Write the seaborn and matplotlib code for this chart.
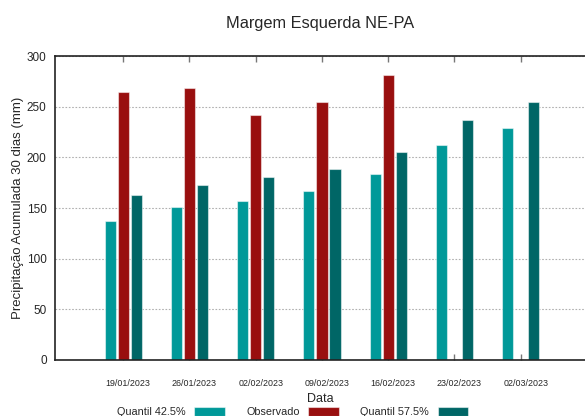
import numpy as np
import pandas as pd
import seaborn as sns
import matplotlib.pyplot as plt
import matplotlib.transforms as mtransforms

datas = ['19/01/2023', '26/01/2023', '02/02/2023', '09/02/2023',
         '16/02/2023', '23/02/2023', '02/03/2023']
quantil_425 = [137.5, 151, 157, 167, 183.5, 212, 229]
observado = [264.5, 268, 241.5, 255, 281, np.nan, np.nan]
quantil_575 = [162.5, 173, 180.5, 188, 205.5, 237, 254.5]

series = ['Quantil 42.5%', 'Observado', 'Quantil 57.5%']
cores = ['#009999', '#990f0f', '#006666']

df = pd.DataFrame({'Data': datas,
                   series[0]: quantil_425,
                   series[1]: observado,
                   series[2]: quantil_575})
dfm = df.melt('Data', var_name='serie', value_name='valor')

sns.set_theme(style="white")
plt.rcParams['font.family'] = ['Liberation Sans', 'DejaVu Sans']

fig = plt.figure(figsize=(5.85, 4.16), dpi=100)
ax = fig.add_axes([55 / 585, 1 - 360 / 416, 1 - 55 / 585, (360 - 56) / 416])

sns.barplot(data=dfm, x='Data', y='valor', hue='serie', hue_order=series,
            palette=cores, width=0.59, gap=0.15, dodge=True,
            edgecolor=(1, 1, 1, 0.5), linewidth=0.8, errorbar=None,
            saturation=1, ax=ax, legend=True)

ax.set_xlim(-1.03, 6.97)
ax.set_ylim(0, 300)
ax.set_yticks(range(0, 301, 50))
ax.yaxis.grid(True, linestyle=(0, (1.5, 1.5)), color='#b0b0b0', linewidth=0.8)
ax.set_axisbelow(True)

for s in ['left', 'bottom', 'top']:
    ax.spines[s].set_color('#222222')
    ax.spines[s].set_linewidth(1.2)
ax.spines['right'].set_visible(False)

ax.tick_params(axis='x', direction='in', length=4, width=1, color='#777777',
               top=True, bottom=True, labelsize=6.4, pad=14)
ax.tick_params(axis='y', length=0, labelsize=8.5, pad=6)
desloc = mtransforms.ScaledTranslation(5 / 100, 0, fig.dpi_scale_trans)
for lbl in ax.get_xticklabels():
    lbl.set_transform(lbl.get_transform() + desloc)

ax.set_xlabel('Data', fontsize=9, labelpad=3)
ax.set_ylabel('Precipitação Acumulada 30 dias (mm)', fontsize=9.5, labelpad=2)
ax.set_title('Margem Esquerda NE-PA', fontsize=11.8, pad=20)

handles, labels = ax.get_legend_handles_labels()
ax.get_legend().remove()
fig.legend(handles, labels, loc='upper center', bbox_to_anchor=(0.5, 0.035),
           ncol=3, frameon=False, markerfirst=False,
           prop={'size': 7.8},
           handlelength=2.8, handleheight=0.9, columnspacing=2.0, borderpad=0,
           handletextpad=0.8)

fig.savefig('out.png', dpi=100)
